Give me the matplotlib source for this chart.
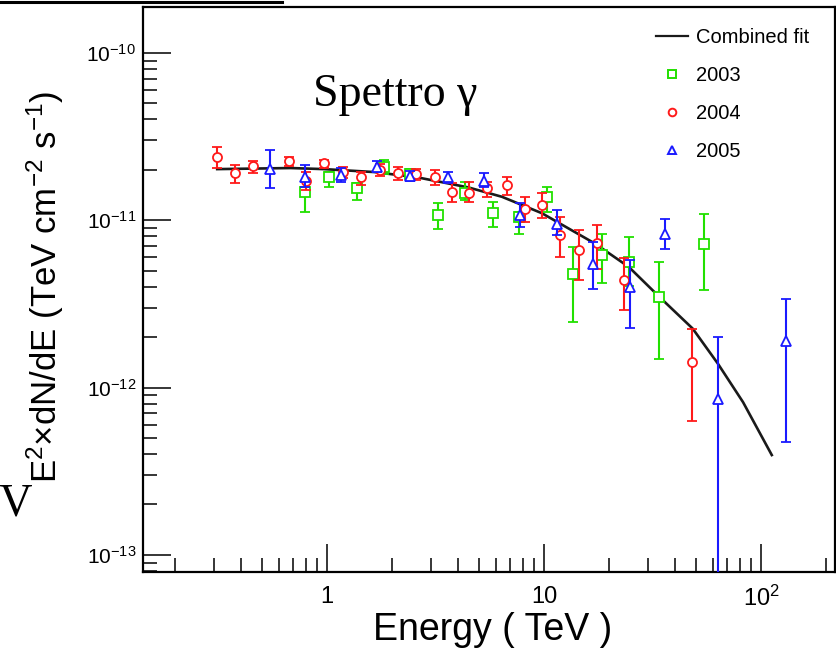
import matplotlib
matplotlib.use("Agg")
import matplotlib.pyplot as plt
from matplotlib.lines import Line2D
import numpy as np

# ---------------- data ----------------
fit_e = [0.312, 0.681, 0.968, 1.65, 2.63, 4.48, 6.40, 9.79, 13.0, 17.2, 24.6, 34.0, 48.4, 63.2, 82.6, 112]
fit_f = [2.02e-11, 2.05e-11, 2.02e-11, 1.94e-11, 1.80e-11, 1.57e-11, 1.38e-11, 1.10e-11, 8.91e-12,
         7.24e-12, 5.25e-12, 3.48e-12, 2.25e-12, 1.39e-12, 8.17e-13, 3.95e-13]

e2003 = [0.788, 1.02, 1.38, 1.83, 2.40, 3.25, 4.32, 5.81, 7.64, 10.3, 13.6, 18.4, 24.5, 34.0, 54.3]
f2003 = [1.48e-11, 1.82e-11, 1.55e-11, 2.07e-11, 1.89e-11, 1.07e-11, 1.45e-11, 1.11e-11, 1.05e-11,
         1.37e-11, 4.75e-12, 6.17e-12, 5.60e-12, 3.47e-12, 7.25e-12]
hi2003 = [1.58e-11, 1.95e-11, 1.66e-11, 2.29e-11, 2.02e-11, 1.26e-11, 1.70e-11, 1.29e-11, 1.12e-11,
          1.58e-11, 6.92e-12, 8.32e-12, 7.94e-12, 5.62e-12, 1.09e-11]
lo2003 = [1.12e-11, 1.58e-11, 1.32e-11, 1.89e-11, 1.76e-11, 8.92e-12, 1.32e-11, 9.12e-12, 8.32e-12,
          1.12e-11, 2.46e-12, 4.21e-12, 4.02e-12, 1.49e-12, 3.85e-12]

e2004 = [0.312, 0.375, 0.456, 0.669, 0.80, 0.97, 1.18, 1.44, 1.76, 2.12, 2.56, 3.14, 3.75, 4.53,
         5.45, 6.74, 8.14, 9.79, 11.9, 14.5, 17.6, 23.4, 47.9]
f2004 = [2.39e-11, 1.91e-11, 2.10e-11, 2.27e-11, 1.71e-11, 2.19e-11, 1.95e-11, 1.80e-11, 2.00e-11,
         1.91e-11, 1.89e-11, 1.81e-11, 1.48e-11, 1.45e-11, 1.55e-11, 1.62e-11, 1.16e-11, 1.23e-11,
         8.21e-12, 6.61e-12, 7.31e-12, 4.37e-12, 1.42e-12]
hi2004 = [2.72e-11, 2.13e-11, 2.27e-11, 2.39e-11, 1.94e-11, 2.29e-11, 2.08e-11, 1.95e-11, 2.16e-11,
          2.08e-11, 2.02e-11, 1.99e-11, 1.66e-11, 1.70e-11, 1.70e-11, 1.82e-11, 1.38e-11, 1.45e-11,
          1.05e-11, 8.71e-12, 9.33e-12, 5.98e-12, 2.25e-12]
lo2004 = [2.04e-11, 1.66e-11, 1.91e-11, 2.10e-11, 1.51e-11, 2.04e-11, 1.78e-11, 1.62e-11, 1.83e-11,
          1.74e-11, 1.74e-11, 1.62e-11, 1.29e-11, 1.29e-11, 1.38e-11, 1.41e-11, 9.77e-12, 1.03e-11,
          6.03e-12, 4.37e-12, 5.14e-12, 2.89e-12, 6.29e-13]

e2005 = [0.545, 0.794, 1.16, 1.70, 2.42, 3.61, 5.28, 7.77, 11.5, 16.8, 24.8, 36.1, 63.2, 130]
f2005 = [2.01e-11, 1.81e-11, 1.86e-11, 2.08e-11, 1.83e-11, 1.80e-11, 1.72e-11, 1.07e-11, 9.55e-12,
         5.50e-12, 3.99e-12, 8.32e-12, 8.56e-13, 1.91e-12]
hi2005 = [2.62e-11, 2.13e-11, 2.04e-11, 2.27e-11, 1.96e-11, 1.94e-11, 1.91e-11, 1.26e-11, 1.15e-11,
          7.41e-12, 5.75e-12, 1.02e-11, 2.00e-12, 3.40e-12]
lo2005 = [1.55e-11, 1.58e-11, 1.70e-11, 1.95e-11, 1.71e-11, 1.67e-11, 1.58e-11, 9.12e-12, 8.13e-12,
          3.90e-12, 2.27e-12, 6.77e-12, 1e-14, 4.70e-13]

xticks = [1, 10, 100]
xticklabels = ["1", "10", r"$10^{2}$"]
yticks = [1e-13, 1e-12, 1e-11, 1e-10]
yticklabels = [r"$10^{-13}$", r"$10^{-12}$", r"$10^{-11}$", r"$10^{-10}$"]

series = [
    ("2003", e2003, f2003, lo2003, hi2003, "#22e000", "s"),
    ("2004", e2004, f2004, lo2004, hi2004, "#ff1a1a", "o"),
    ("2005", e2005, f2005, lo2005, hi2005, "#1a1aff", "^"),
]

# ---------------- style ----------------
plt.rcParams["font.family"] = ["Liberation Sans", "DejaVu Sans"]
plt.rcParams["mathtext.fontset"] = "custom"
plt.rcParams["mathtext.rm"] = "Liberation Sans"
plt.rcParams["mathtext.it"] = "Liberation Sans:italic"
plt.rcParams["mathtext.bf"] = "Liberation Sans:bold"

W, H = 837, 650
fig = plt.figure(figsize=(W / 100, H / 100), dpi=100)
L, R, T, B = 143, 835, 7, 572
ax = fig.add_axes([L / W, 1 - B / H, (R - L) / W, (B - T) / H])
ax.set_xscale("log")
ax.set_yscale("log")
ax.set_xlim(0.142, 219)
ax.set_ylim(7.9e-14, 1.88e-10)

ax.plot(fit_e, fit_f, color="#1a1a1a", lw=1.9, zorder=5, label="Combined fit",
        solid_joinstyle="round")

handles = [Line2D([], [], color="#1a1a1a", lw=1.6)]
labels = ["Combined fit"]
for z, (name, e, f, lo, hi, col, mk) in enumerate(series):
    e = np.array(e); f = np.array(f); lo = np.array(lo); hi = np.array(hi)
    ax.errorbar(e, f, yerr=[f - lo, hi - f], fmt=mk, color=col, ms=6.5 if mk != "^" else 7,
                mfc="white", mec=col, mew=1.3, elinewidth=1.5, capsize=3.3, capthick=1.5,
                zorder=6 + z)
    handles.append(Line2D([], [], ls="none", marker=mk, ms=5.5, mfc="white", mec=col, mew=1.4))
    labels.append(name)

ax.set_xticks(xticks)
ax.set_xticklabels(xticklabels)
ax.set_yticks(yticks)
ax.set_yticklabels(yticklabels)
ax.xaxis.set_minor_locator(matplotlib.ticker.LogLocator(base=10, subs=np.arange(2, 10), numticks=50))
ax.yaxis.set_minor_locator(matplotlib.ticker.LogLocator(base=10, subs=np.arange(2, 10), numticks=50))
ax.xaxis.set_minor_formatter(matplotlib.ticker.NullFormatter())
ax.yaxis.set_minor_formatter(matplotlib.ticker.NullFormatter())
ax.tick_params(which="both", direction="in", top=False, right=False, width=1.1, color="black")
ax.tick_params(which="major", length=20)
ax.tick_params(which="minor", length=10)
ax.tick_params(axis="y", which="major", labelsize=15, pad=5)
ax.tick_params(axis="x", which="major", labelsize=17, pad=10)
for s in ax.spines.values():
    s.set_linewidth(1.6)

fig.text(493 / W, 1 - 630 / H, "Energy ( TeV )", fontsize=27, ha="center", va="center")
fig.text(45 / W, 1 - 287 / H, r"E$^{2}$$\times$dN/dE (TeV cm$^{-2}$ s$^{-1}$)", fontsize=25,
         rotation=90, ha="center", va="center")

fig.text(395 / W, 1 - 95 / H, "Spettro γ", fontsize=33, ha="center", va="center",
         family=["Liberation Serif", "DejaVu Serif"])
fig.text(33 / W, 1 - 515 / H, "eV", fontsize=33, ha="right", va="baseline",
         family=["Liberation Serif", "DejaVu Serif"])
fig.add_artist(Line2D([0, 282 / W], [1 - 1.5 / H, 1 - 1.5 / H], color="black", lw=2.2,
                      transform=fig.transFigure))

ax.legend(handles, labels, loc="upper left", bbox_to_anchor=(656 / W, 1 - 28 / H),
          bbox_transform=fig.transFigure, frameon=False, fontsize=14.5, borderpad=0,
          borderaxespad=0, handlelength=1.6, handletextpad=0.4, labelspacing=0.95)

fig.savefig("out.png", dpi=100)
